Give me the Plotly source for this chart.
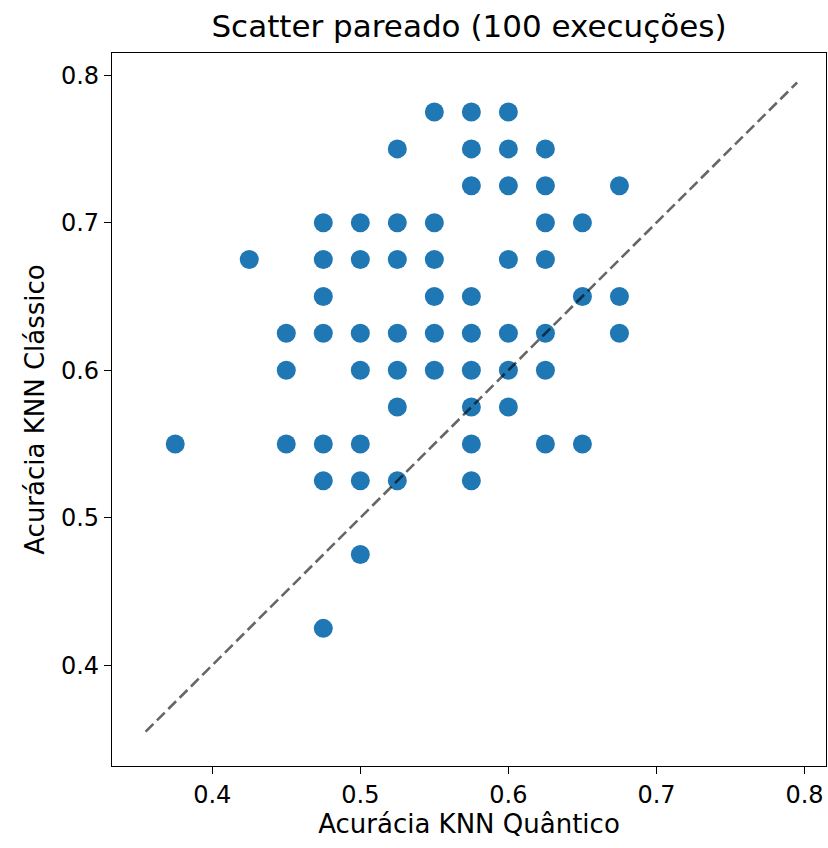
import plotly.graph_objects as go

# Paired accuracies (quantum KNN on x, classical KNN on y)
quantico = [
    0.55, 0.575, 0.6,
    0.525, 0.575, 0.6, 0.625,
    0.575, 0.6, 0.625, 0.675,
    0.475, 0.5, 0.525, 0.55, 0.625, 0.65,
    0.425, 0.475, 0.5, 0.525, 0.55, 0.6, 0.625,
    0.475, 0.55, 0.575, 0.65, 0.675,
    0.45, 0.475, 0.5, 0.525, 0.55, 0.575, 0.6, 0.625, 0.675,
    0.45, 0.5, 0.525, 0.55, 0.575, 0.6, 0.625,
    0.525, 0.575, 0.6,
    0.375, 0.45, 0.475, 0.5, 0.575, 0.625, 0.65,
    0.475, 0.5, 0.525, 0.575,
    0.5,
    0.475,
]
classico = [
    0.775, 0.775, 0.775,
    0.75, 0.75, 0.75, 0.75,
    0.725, 0.725, 0.725, 0.725,
    0.7, 0.7, 0.7, 0.7, 0.7, 0.7,
    0.675, 0.675, 0.675, 0.675, 0.675, 0.675, 0.675,
    0.65, 0.65, 0.65, 0.65, 0.65,
    0.625, 0.625, 0.625, 0.625, 0.625, 0.625, 0.625, 0.625, 0.625,
    0.6, 0.6, 0.6, 0.6, 0.6, 0.6, 0.6,
    0.575, 0.575, 0.575,
    0.55, 0.55, 0.55, 0.55, 0.55, 0.55, 0.55,
    0.525, 0.525, 0.525, 0.525,
    0.475,
    0.425,
]
tick_vals = [0.4, 0.5, 0.6, 0.7, 0.8]
tick_text = ["0.4", "0.5", "0.6", "0.7", "0.8"]

lo = min(min(quantico), min(classico)) - 0.02
hi = max(max(quantico), max(classico)) + 0.02

FONT = "DejaVu Sans"
W, H = 828, 848
fig = go.Figure()
fig.add_trace(go.Scatter(
    x=quantico, y=classico, mode="markers",
    marker=dict(size=19, color="#1f77b4", line=dict(width=0)),
    showlegend=False, hoverinfo="x+y",
))
fig.add_trace(go.Scatter(
    x=[lo, hi], y=[lo, hi], mode="lines",
    line=dict(color="rgba(0,0,0,0.6)", width=2.6, dash="11px,5px"),
    showlegend=False, hoverinfo="skip",
))

axis_common = dict(
    showgrid=False, zeroline=False, showline=True, linecolor="black", linewidth=1.3,
    mirror=True, ticks="outside", ticklen=7, tickwidth=1.3, tickcolor="black",
    tickfont=dict(family=FONT, size=24, color="black"),
    tickvals=tick_vals, ticktext=tick_text, automargin=False,
)
fig.update_layout(
    width=W, height=H,
    paper_bgcolor="white", plot_bgcolor="white",
    margin=dict(l=112, r=2, t=53, b=82),
    font=dict(family=FONT, color="black"),
    title=dict(text="Scatter pareado (100 execuções)", x=(112 + 826) / 2 / W, xanchor="center",
               y=1 - 26 / H, yanchor="middle", yref="container", automargin=False,
               font=dict(family=FONT, size=31, color="black")),
    xaxis=dict(range=[0.3323, 0.8145],
               title=dict(text="Acurácia KNN Quântico", font=dict(family=FONT, size=26), standoff=6),
               **axis_common),
    yaxis=dict(range=[0.3317, 0.8150],
               title=dict(text="Acurácia KNN Clássico", font=dict(family=FONT, size=26), standoff=8),
               **axis_common),
)
fig.write_html(
    "out.html",
    config={"displayModeBar": False},
    post_script="document.body.style.margin='0';document.body.style.overflow='hidden';",
)
